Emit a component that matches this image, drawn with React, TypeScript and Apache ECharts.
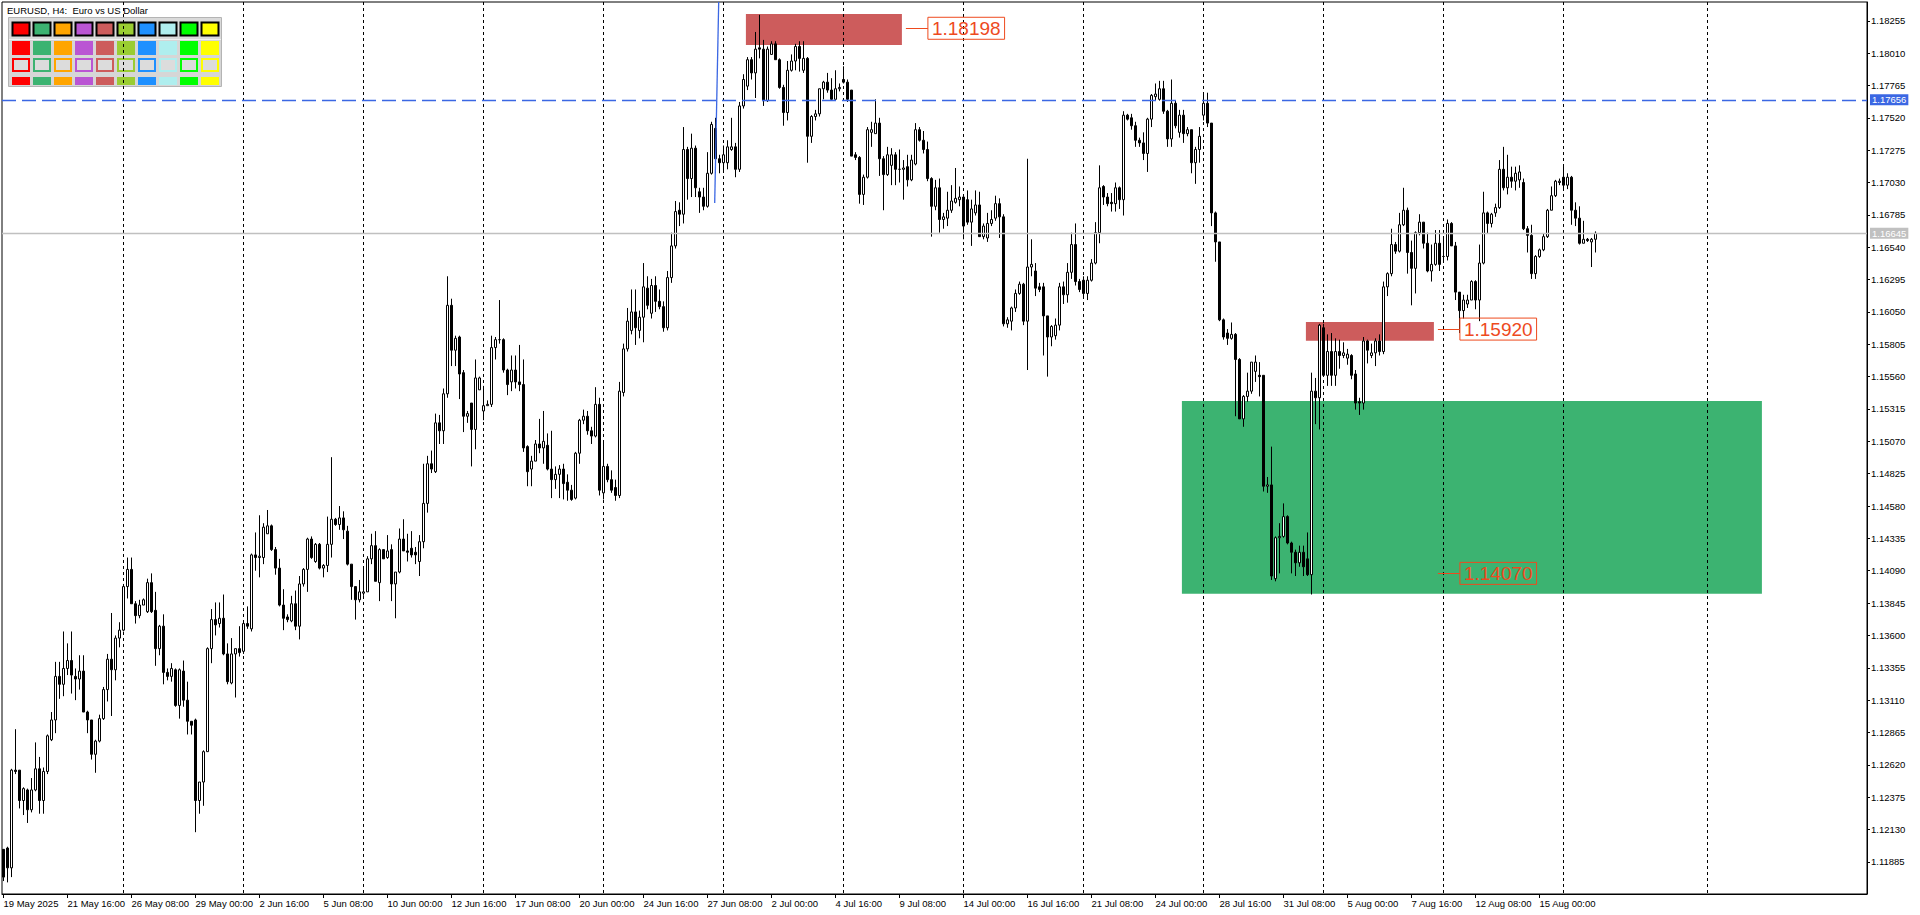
import React, { useEffect, useRef } from 'react';
import * as echarts from 'echarts';

// EURUSD H4 bars, one array per trading week: [open, high, low, close]
const week1 = [
  [1.1198,1.1198,1.1174,1.1177],[1.1199,1.1200,1.1173,1.1184],[1.1184,1.1259,1.1177,1.1258],[1.1258,1.1289,1.1255,1.1257],[1.1258,1.1258,1.1229,1.1235],[1.1235,1.1245,1.1224,1.1244],[1.1243,1.1244,1.1218,1.1228],[1.1228,1.1252,1.1226,1.1243],[1.1243,1.1279,1.1242,1.1259],[1.1259,1.1268,1.1225,1.1235],
  [1.1235,1.1260,1.1225,1.1257],[1.1257,1.1285,1.1255,1.1284],[1.1281,1.1302,1.1280,1.1296],[1.1296,1.1340,1.1286,1.1329],[1.1329,1.1340,1.1312,1.1323],[1.1323,1.1363,1.1314,1.1335],[1.1335,1.1354,1.1330,1.1341],[1.1341,1.1363,1.1316,1.1330],[1.1329,1.1335,1.1311,1.1327],[1.1327,1.1345,1.1319,1.1333],
  [1.1333,1.1345,1.1302,1.1302],[1.1302,1.1303,1.1286,1.1296],[1.1296,1.1296,1.1266,1.1270],[1.1270,1.1281,1.1256,1.1280],[1.1280,1.1300,1.1279,1.1297],[1.1297,1.1321,1.1296,1.1319],[1.1319,1.1346,1.1310,1.1342],[1.1342,1.1377,1.1299,1.1334],[1.1334,1.1360,1.1326,1.1358],[1.1358,1.1370,1.1351,1.1364],
];
const week2 = [
  [1.1364,1.1399,1.1363,1.1397],[1.1397,1.1419,1.1388,1.1410],[1.1410,1.1419,1.1384,1.1384],[1.1384,1.1386,1.1369,1.1375],[1.1375,1.1387,1.1373,1.1383],[1.1383,1.1388,1.1383,1.1387],[1.1378,1.1403,1.1377,1.1400],[1.1400,1.1407,1.1377,1.1378],[1.1379,1.1393,1.1337,1.1350],[1.1350,1.1368,1.1345,1.1367],
  [1.1367,1.1376,1.1323,1.1332],[1.1332,1.1335,1.1326,1.1329],[1.1329,1.1339,1.1325,1.1335],[1.1334,1.1335,1.1306,1.1307],[1.1307,1.1335,1.1297,1.1334],[1.1333,1.1341,1.1306,1.1311],[1.1311,1.1325,1.1285,1.1295],[1.1295,1.1295,1.1285,1.1292],[1.1296,1.1297,1.1211,1.1235],[1.1235,1.1249,1.1225,1.1249],
  [1.1249,1.1273,1.1231,1.1272],[1.1272,1.1351,1.1272,1.1350],[1.1350,1.1380,1.1339,1.1372],[1.1372,1.1385,1.1360,1.1368],[1.1369,1.1385,1.1366,1.1373],[1.1373,1.1391,1.1345,1.1346],[1.1346,1.1354,1.1323,1.1325],[1.1324,1.1358,1.1323,1.1346],[1.1346,1.1350,1.1313,1.1350],[1.1350,1.1367,1.1344,1.1347],
];
const week3 = [
  [1.1348,1.1369,1.1346,1.1369],[1.1369,1.1382,1.1365,1.1367],[1.1365,1.1422,1.1363,1.1421],[1.1421,1.1438,1.1409,1.1419],[1.1419,1.1451,1.1404,1.1420],[1.1419,1.1445,1.1414,1.1442],[1.1437,1.1455,1.1437,1.1443],[1.1443,1.1444,1.1424,1.1425],[1.1425,1.1427,1.1406,1.1411],[1.1411,1.1418,1.1382,1.1383],
  [1.1383,1.1395,1.1364,1.1373],[1.1374,1.1376,1.1370,1.1372],[1.1371,1.1390,1.1370,1.1384],[1.1384,1.1394,1.1364,1.1367],[1.1367,1.1405,1.1357,1.1399],[1.1399,1.1411,1.1397,1.1410],[1.1410,1.1434,1.1393,1.1433],[1.1433,1.1435,1.1418,1.1419],[1.1416,1.1430,1.1415,1.1429],[1.1429,1.1430,1.1410,1.1411],
  [1.1411,1.1414,1.1404,1.1413],[1.1413,1.1450,1.1408,1.1429],[1.1429,1.1495,1.1419,1.1448],[1.1448,1.1449,1.1443,1.1444],[1.1444,1.1458,1.1440,1.1449],[1.1449,1.1454,1.1433,1.1440],[1.1439,1.1443,1.1413,1.1414],[1.1414,1.1414,1.1387,1.1397],[1.1397,1.1397,1.1372,1.1387],[1.1387,1.1402,1.1385,1.1393],
];
const week4 = [
  [1.1392,1.1411,1.1390,1.1393],[1.1393,1.1420,1.1393,1.1418],[1.1418,1.1437,1.1414,1.1428],[1.1428,1.1439,1.1401,1.1401],[1.1400,1.1426,1.1386,1.1425],[1.1425,1.1425,1.1418,1.1418],[1.1419,1.1436,1.1418,1.1424],[1.1425,1.1429,1.1386,1.1399],[1.1399,1.1408,1.1373,1.1408],[1.1408,1.1441,1.1407,1.1433],
  [1.1433,1.1448,1.1424,1.1424],[1.1424,1.1437,1.1416,1.1423],[1.1426,1.1439,1.1419,1.1421],[1.1423,1.1427,1.1414,1.1421],[1.1416,1.1436,1.1405,1.1431],[1.1431,1.1490,1.1426,1.1460],[1.1460,1.1496,1.1453,1.1490],[1.1490,1.1500,1.1483,1.1486],[1.1484,1.1528,1.1483,1.1521],[1.1521,1.1527,1.1505,1.1515],
  [1.1515,1.1547,1.1505,1.1543],[1.1543,1.1632,1.1540,1.1610],[1.1610,1.1615,1.1564,1.1576],[1.1576,1.1587,1.1564,1.1585],[1.1586,1.1587,1.1539,1.1558],[1.1559,1.1561,1.1514,1.1526],[1.1526,1.1530,1.1521,1.1528],[1.1536,1.1536,1.1488,1.1516],[1.1516,1.1569,1.1501,1.1555],[1.1546,1.1556,1.1546,1.1555],
];
const week5 = [
  [1.1530,1.1549,1.1523,1.1534],[1.1534,1.1538,1.1534,1.1535],[1.1535,1.1587,1.1533,1.1578],[1.1578,1.1586,1.1569,1.1584],[1.1584,1.1614,1.1581,1.1584],[1.1584,1.1585,1.1559,1.1561],[1.1561,1.1562,1.1542,1.1550],[1.1552,1.1572,1.1545,1.1561],[1.1561,1.1572,1.1547,1.1552],[1.1552,1.1580,1.1545,1.1550],
  [1.1550,1.1569,1.1499,1.1502],[1.1503,1.1504,1.1473,1.1484],[1.1486,1.1496,1.1473,1.1492],[1.1492,1.1508,1.1492,1.1505],[1.1505,1.1524,1.1498,1.1502],[1.1502,1.1530,1.1490,1.1507],[1.1504,1.1513,1.1485,1.1486],[1.1486,1.1515,1.1464,1.1478],[1.1478,1.1488,1.1471,1.1482],[1.1482,1.1489,1.1464,1.1486],
  [1.1486,1.1490,1.1463,1.1475],[1.1476,1.1482,1.1462,1.1470],[1.1470,1.1474,1.1462,1.1463],[1.1464,1.1499,1.1463,1.1498],[1.1498,1.1524,1.1490,1.1523],[1.1523,1.1531,1.1520,1.1526],[1.1526,1.1530,1.1512,1.1515],[1.1515,1.1518,1.1505,1.1511],[1.1511,1.1548,1.1510,1.1535],[1.1535,1.1540,1.1466,1.1470],
];
const week6 = [
  [1.1468,1.1508,1.1463,1.1488],[1.1488,1.1490,1.1476,1.1478],[1.1478,1.1485,1.1468,1.1470],[1.1472,1.1478,1.1462,1.1466],[1.1466,1.1552,1.1464,1.1545],[1.1544,1.1581,1.1541,1.1577],[1.1577,1.1608,1.1575,1.1598],[1.1591,1.1622,1.1588,1.1605],[1.1605,1.1622,1.1580,1.1593],[1.1591,1.1606,1.1585,1.1601],
  [1.1601,1.1642,1.1582,1.1624],[1.1623,1.1632,1.1607,1.1610],[1.1604,1.1630,1.1600,1.1625],[1.1625,1.1632,1.1605,1.1613],[1.1613,1.1622,1.1607,1.1609],[1.1609,1.1613,1.1590,1.1593],[1.1593,1.1636,1.1591,1.1631],[1.1631,1.1665,1.1627,1.1655],[1.1655,1.1689,1.1653,1.1681],[1.1682,1.1688,1.1670,1.1679],
  [1.1679,1.1745,1.1672,1.1728],[1.1728,1.1730,1.1690,1.1706],[1.1706,1.1740,1.1692,1.1729],[1.1729,1.1731,1.1692,1.1699],[1.1696,1.1699,1.1680,1.1692],[1.1692,1.1699,1.1682,1.1685],[1.1685,1.1726,1.1684,1.1710],[1.1710,1.1749,1.1709,1.1747],[1.1744,1.1752,1.1710,1.1721],[1.1721,1.1724,1.1710,1.1718],
];
const week7 = [
  [1.1718,1.1731,1.1712,1.1724],[1.1718,1.1735,1.1713,1.1730],[1.1728,1.1752,1.1727,1.1730],[1.1730,1.1733,1.1707,1.1713],[1.1713,1.1764,1.1711,1.1761],[1.1761,1.1785,1.1759,1.1781],[1.1776,1.1798,1.1773,1.1796],[1.1796,1.1798,1.1781,1.1786],[1.1786,1.1817,1.1767,1.1804],[1.1805,1.1830,1.1797,1.1804],
  [1.1804,1.1811,1.1761,1.1765],[1.1765,1.1806,1.1764,1.1804],[1.1800,1.1810,1.1800,1.1808],[1.1808,1.1810,1.1796,1.1796],[1.1796,1.1797,1.1774,1.1775],[1.1775,1.1777,1.1746,1.1756],[1.1756,1.1795,1.1750,1.1788],[1.1788,1.1800,1.1787,1.1795],[1.1795,1.1808,1.1788,1.1806],[1.1806,1.1810,1.1787,1.1797],
  [1.1788,1.1810,1.1786,1.1797],[1.1797,1.1798,1.1718,1.1738],[1.1738,1.1754,1.1733,1.1753],[1.1753,1.1758,1.1750,1.1755],[1.1755,1.1774,1.1753,1.1774],[1.1774,1.1780,1.1766,1.1779],[1.1779,1.1786,1.1771,1.1773],[1.1773,1.1782,1.1765,1.1766],[1.1766,1.1788,1.1766,1.1774],[1.1774,1.1778,1.1772,1.1775],
];
const week8 = [
  [1.1781,1.1791,1.1778,1.1779],[1.1779,1.1781,1.1764,1.1766],[1.1773,1.1773,1.1723,1.1723],[1.1724,1.1726,1.1720,1.1722],[1.1722,1.1723,1.1687,1.1694],[1.1694,1.1709,1.1686,1.1707],[1.1707,1.1745,1.1706,1.1743],[1.1741,1.1749,1.1730,1.1743],[1.1740,1.1766,1.1740,1.1748],[1.1748,1.1752,1.1708,1.1721],
  [1.1721,1.1723,1.1682,1.1709],[1.1709,1.1730,1.1708,1.1724],[1.1716,1.1729,1.1701,1.1724],[1.1724,1.1726,1.1701,1.1713],[1.1713,1.1728,1.1703,1.1713],[1.1713,1.1720,1.1690,1.1714],[1.1715,1.1724,1.1700,1.1705],[1.1705,1.1724,1.1704,1.1720],[1.1717,1.1748,1.1716,1.1743],[1.1743,1.1745,1.1734,1.1735],
  [1.1735,1.1742,1.1725,1.1728],[1.1728,1.1734,1.1704,1.1706],[1.1706,1.1707,1.1662,1.1685],[1.1685,1.1705,1.1682,1.1699],[1.1699,1.1706,1.1665,1.1675],[1.1675,1.1680,1.1668,1.1677],[1.1676,1.1696,1.1670,1.1682],[1.1682,1.1701,1.1680,1.1689],[1.1688,1.1714,1.1687,1.1691],[1.1690,1.1700,1.1685,1.1692],
];
const week9 = [
  [1.1692,1.1694,1.1660,1.1670],[1.1690,1.1697,1.1671,1.1673],[1.1673,1.1690,1.1655,1.1683],[1.1680,1.1697,1.1678,1.1686],[1.1686,1.1696,1.1662,1.1662],[1.1662,1.1672,1.1660,1.1670],[1.1661,1.1680,1.1658,1.1672],[1.1672,1.1682,1.1670,1.1675],[1.1676,1.1693,1.1674,1.1687],[1.1687,1.1691,1.1661,1.1677],
  [1.1677,1.1679,1.1594,1.1596],[1.1596,1.1601,1.1593,1.1599],[1.1598,1.1609,1.1591,1.1608],[1.1608,1.1622,1.1605,1.1619],[1.1619,1.1628,1.1618,1.1626],[1.1626,1.1627,1.1595,1.1598],[1.1598,1.1721,1.1561,1.1639],[1.1639,1.1660,1.1632,1.1641],[1.1636,1.1642,1.1617,1.1623],[1.1624,1.1627,1.1620,1.1622],
  [1.1624,1.1627,1.1572,1.1602],[1.1602,1.1602,1.1556,1.1586],[1.1586,1.1595,1.1579,1.1594],[1.1587,1.1600,1.1584,1.1595],[1.1595,1.1627,1.1591,1.1624],[1.1624,1.1628,1.1611,1.1618],[1.1618,1.1642,1.1612,1.1635],[1.1635,1.1665,1.1630,1.1656],[1.1656,1.1672,1.1625,1.1628],[1.1628,1.1630,1.1620,1.1622],
];
const week10 = [
  [1.1629,1.1632,1.1617,1.1619],[1.1619,1.1632,1.1614,1.1629],[1.1629,1.1645,1.1628,1.1642],[1.1642,1.1673,1.1641,1.1665],[1.1665,1.1716,1.1657,1.1699],[1.1700,1.1701,1.1686,1.1692],[1.1692,1.1695,1.1685,1.1687],[1.1688,1.1695,1.1681,1.1687],[1.1687,1.1703,1.1681,1.1699],[1.1699,1.1700,1.1683,1.1690],
  [1.1690,1.1757,1.1678,1.1754],[1.1754,1.1755,1.1750,1.1751],[1.1752,1.1755,1.1743,1.1746],[1.1746,1.1749,1.1730,1.1735],[1.1735,1.1737,1.1730,1.1733],[1.1733,1.1741,1.1720,1.1725],[1.1725,1.1752,1.1711,1.1751],[1.1751,1.1770,1.1745,1.1769],[1.1768,1.1778,1.1765,1.1770],[1.1766,1.1780,1.1765,1.1774],
  [1.1774,1.1780,1.1755,1.1757],[1.1757,1.1758,1.1730,1.1736],[1.1736,1.1781,1.1730,1.1763],[1.1763,1.1765,1.1744,1.1746],[1.1741,1.1758,1.1737,1.1754],[1.1754,1.1758,1.1733,1.1740],[1.1740,1.1745,1.1738,1.1743],[1.1743,1.1743,1.1710,1.1718],[1.1718,1.1730,1.1702,1.1728],[1.1728,1.1745,1.1718,1.1738],
];
const week11 = [
  [1.1754,1.1770,1.1750,1.1763],[1.1763,1.1771,1.1745,1.1748],[1.1748,1.1748,1.1670,1.1680],[1.1680,1.1681,1.1643,1.1658],[1.1658,1.1658,1.1598,1.1599],[1.1599,1.1600,1.1584,1.1586],[1.1589,1.1592,1.1580,1.1585],[1.1585,1.1597,1.1584,1.1588],[1.1588,1.1589,1.1526,1.1569],[1.1569,1.1570,1.1524,1.1524],
  [1.1524,1.1542,1.1518,1.1541],[1.1541,1.1559,1.1537,1.1545],[1.1545,1.1567,1.1543,1.1567],[1.1560,1.1572,1.1552,1.1567],[1.1557,1.1567,1.1541,1.1556],[1.1557,1.1557,1.1469,1.1473],[1.1473,1.1480,1.1468,1.1474],[1.1474,1.1503,1.1402,1.1405],[1.1403,1.1435,1.1401,1.1434],[1.1434,1.1445,1.1407,1.1435],
  [1.1435,1.1460,1.1434,1.1450],[1.1450,1.1451,1.1429,1.1430],[1.1430,1.1431,1.1407,1.1423],[1.1423,1.1425,1.1405,1.1415],[1.1415,1.1428,1.1412,1.1423],[1.1423,1.1428,1.1405,1.1412],[1.1418,1.1438,1.1405,1.1406],[1.1406,1.1559,1.1391,1.1545],[1.1545,1.1555,1.1520,1.1540],[1.1540,1.1596,1.1516,1.1595],
];
const week12 = [
  [1.1593,1.1596,1.1556,1.1557],[1.1557,1.1588,1.1549,1.1575],[1.1575,1.1589,1.1549,1.1557],[1.1557,1.1585,1.1549,1.1575],[1.1575,1.1584,1.1562,1.1572],[1.1572,1.1582,1.1570,1.1574],[1.1570,1.1577,1.1565,1.1573],[1.1572,1.1573,1.1554,1.1557],[1.1558,1.1561,1.1531,1.1536],[1.1537,1.1540,1.1527,1.1536],
  [1.1536,1.1586,1.1531,1.1583],[1.1583,1.1584,1.1566,1.1576],[1.1572,1.1581,1.1570,1.1574],[1.1574,1.1585,1.1564,1.1583],[1.1583,1.1588,1.1572,1.1575],[1.1575,1.1628,1.1573,1.1624],[1.1624,1.1635,1.1617,1.1634],[1.1634,1.1668,1.1632,1.1656],[1.1656,1.1658,1.1649,1.1651],[1.1651,1.1680,1.1650,1.1671],
  [1.1671,1.1699,1.1670,1.1682],[1.1682,1.1684,1.1634,1.1650],[1.1650,1.1659,1.1610,1.1638],[1.1638,1.1666,1.1619,1.1665],[1.1665,1.1679,1.1663,1.1673],[1.1673,1.1673,1.1653,1.1657],[1.1657,1.1665,1.1635,1.1636],[1.1636,1.1656,1.1628,1.1641],[1.1641,1.1667,1.1640,1.1657],[1.1657,1.1667,1.1636,1.1641],
];
const week13 = [
  [1.1647,1.1662,1.1643,1.1647],[1.1647,1.1675,1.1644,1.1672],[1.1672,1.1673,1.1655,1.1655],[1.1655,1.1658,1.1614,1.1620],[1.1620,1.1620,1.1589,1.1606],[1.1606,1.1618,1.1600,1.1614],[1.1611,1.1618,1.1608,1.1614],[1.1614,1.1629,1.1614,1.1628],[1.1628,1.1629,1.1607,1.1614],[1.1614,1.1656,1.1598,1.1642],
  [1.1642,1.1696,1.1641,1.1680],[1.1680,1.1681,1.1664,1.1672],[1.1672,1.1680,1.1669,1.1679],[1.1680,1.1687,1.1677,1.1684],[1.1684,1.1720,1.1683,1.1713],[1.1713,1.1730,1.1697,1.1699],[1.1699,1.1724,1.1694,1.1707],[1.1707,1.1715,1.1699,1.1704],[1.1704,1.1715,1.1697,1.1710],[1.1705,1.1716,1.1699,1.1711],
  [1.1703,1.1706,1.1667,1.1668],[1.1668,1.1670,1.1650,1.1663],[1.1663,1.1671,1.1630,1.1634],[1.1634,1.1648,1.1630,1.1647],[1.1647,1.1653,1.1646,1.1652],[1.1652,1.1664,1.1651,1.1662],[1.1662,1.1683,1.1661,1.1682],[1.1682,1.1700,1.1682,1.1693],[1.1693,1.1705,1.1692,1.1704],[1.1703,1.1706,1.1701,1.1704],
];
const week14 = [
  [1.1707,1.1716,1.1697,1.1701],[1.1701,1.1710,1.1698,1.1707],[1.1707,1.1708,1.1671,1.1682],[1.1682,1.1688,1.1670,1.1676],[1.1676,1.1685,1.1656,1.1657],[1.1657,1.1674,1.1657,1.1660],[1.1660,1.1661,1.1658,1.1659],[1.1658,1.1661,1.1639,1.1660],[1.1660,1.1666,1.1650,1.16645],
];
const weeks = [week1, week2, week3, week4, week5, week6, week7, week8, week9, week10, week11, week12, week13, week14];

const chartTitle = 'EURUSD, H4:  Euro vs US Dollar';
const xTickLabels = ['19 May 2025', '21 May 16:00', '26 May 08:00', '29 May 00:00', '2 Jun 16:00', '5 Jun 08:00', '10 Jun 00:00', '12 Jun 16:00', '17 Jun 08:00', '20 Jun 00:00', '24 Jun 16:00', '27 Jun 08:00', '2 Jul 00:00', '4 Jul 16:00', '9 Jul 08:00', '14 Jul 00:00', '16 Jul 16:00', '21 Jul 08:00', '24 Jul 00:00', '28 Jul 16:00', '31 Jul 08:00', '5 Aug 00:00', '7 Aug 16:00', '12 Aug 08:00', '15 Aug 00:00'];
const xTickBars = [0, 16, 32, 48, 64, 80, 96, 112, 128, 144, 160, 176, 192, 208, 224, 240, 256, 272, 288, 304, 320, 336, 352, 368, 384];
const yTickValues = [1.11885, 1.12130, 1.12375, 1.12620, 1.12865, 1.13110, 1.13355, 1.13600, 1.13845, 1.14090, 1.14335, 1.14580, 1.14825, 1.15070, 1.15315, 1.15560, 1.15805, 1.16050, 1.16295, 1.16540, 1.16785, 1.17030, 1.17275, 1.17520, 1.17765, 1.18010, 1.18255];
const weekGridBars = [30, 60, 90, 120, 150, 180, 210, 240, 270, 300, 330, 360, 390, 426];

// zones: [fromBar, topPrice, toBar, bottomPrice]
const zones = [
  [185.6, 1.18306, 224.6, 1.18072],
  [325.6, 1.15974, 357.6, 1.15832],
  [294.6, 1.15376, 439.6, 1.13916],
];
const zoneKinds = ['supply', 'supply', 'demand'];
// level labels: [anchorBar, price]
const levelLabels = [
  [225.6, 1.18198],
  [358.6, 1.15920],
  [358.6, 1.14070],
];
const alertLevel = 1.17656;
const bidPrice = 1.16645;
const trendLine = [177.8, 1.16875, 178.8, 1.18397];
const paletteColors = ['#FF0000', '#3CB371', '#FFA500', '#BA55D3', '#CD5C5C', '#9ACD32', '#1E90FF', '#AFEEEE', '#00FF00', '#FFFF00'];

const FONT = '"Liberation Sans", Arial, sans-serif';
const LABEL_RED = '#EE4A1E';

export default function App() {
  const ref = useRef<HTMLDivElement>(null);
  useEffect(() => {
    const chart = echarts.init(ref.current!, null, { renderer: 'svg' });
    const bars = weeks.flat();
    const candles = bars.map((b, i) => [i, b[0], b[3], b[2], b[1]]);

    const palette: any[] = [
      { type: 'rect', shape: { x: 8.5, y: 17.5, width: 213, height: 69 }, style: { fill: '#d6d6d6', stroke: '#b4b4b4', lineWidth: 1 } },
      { type: 'rect', shape: { x: 9, y: 18, width: 212, height: 21 }, style: { fill: '#dadada' } },
      { type: 'line', shape: { x1: 9, y1: 39.5, x2: 221, y2: 39.5 }, style: { stroke: '#f2f2f2', lineWidth: 1 } },
    ];
    paletteColors.forEach((c, k) => {
      const x = 12 + 21 * k;
      palette.push({ type: 'rect', shape: { x: x + 0.5, y: 22.5, width: 17, height: 13 }, style: { fill: c, stroke: '#000', lineWidth: 2 } });
      palette.push({ type: 'rect', shape: { x, y: 41, width: 18, height: 14 }, style: { fill: c } });
      palette.push({ type: 'rect', shape: { x: x + 1, y: 59, width: 16, height: 12 }, style: { fill: '#dcdcdc', stroke: c, lineWidth: 2 } });
      palette.push({ type: 'rect', shape: { x, y: 77, width: 18, height: 8 }, style: { fill: c } });
    });

    const option: any = {
      animation: false,
      backgroundColor: '#ffffff',
      grid: { left: 2, right: 53, top: 2, bottom: 21, show: true, borderColor: '#000', borderWidth: 1, backgroundColor: 'transparent' },
      xAxis: {
        type: 'value', min: -0.375, max: 465.875,
        axisLine: { show: true, onZero: false, lineStyle: { color: '#000', width: 1 } },
        axisTick: { show: true, customValues: xTickBars, length: 4, lineStyle: { color: '#000', width: 1 } },
        axisLabel: {
          show: true, customValues: xTickBars,
          formatter: (v: number) => xTickLabels[xTickBars.indexOf(Math.round(v))] ?? '',
          align: 'left', margin: 4, color: '#000', fontSize: 9.5, fontFamily: FONT,
        },
        splitLine: { show: false },
      },
      yAxis: {
        type: 'value', position: 'right', min: 1.11642, max: 1.18397,
        axisLine: { show: true, onZero: false, lineStyle: { color: '#000', width: 1 } },
        axisTick: { show: true, customValues: yTickValues, length: 3, lineStyle: { color: '#000', width: 1 } },
        axisLabel: {
          show: true, customValues: yTickValues,
          formatter: (v: number) => v.toFixed(5),
          margin: 4, color: '#000', fontSize: 9.5, fontFamily: FONT,
        },
        splitLine: { show: false },
      },
      series: [
        {
          type: 'custom', name: 'zones', z: 1, silent: true, clip: true,
          data: zones,
          encode: { x: [0, 2], y: [1, 3] },
          renderItem: (params: any, api: any) => {
            const a = api.coord([api.value(0), api.value(1)]);
            const b = api.coord([api.value(2), api.value(3)]);
            const kind = zoneKinds[params.dataIndex];
            return {
              type: 'rect',
              shape: { x: a[0], y: a[1], width: b[0] - a[0], height: b[1] - a[1] },
              style: { fill: kind === 'demand' ? '#3CB371' : '#CD5C5C' },
            };
          },
        },
        {
          type: 'custom', name: 'weekGrid', z: 1, silent: true, clip: true,
          data: weekGridBars.map((b) => [b, 1.15]),
          encode: { x: 0, y: 1 },
          renderItem: (params: any, api: any) => {
            const cs = params.coordSys;
            const x = api.coord([api.value(0), api.value(1)])[0];
            return {
              type: 'line',
              shape: { x1: x, y1: cs.y, x2: x, y2: cs.y + cs.height },
              style: { stroke: '#000', lineWidth: 1, lineDash: [3, 3] },
            };
          },
        },
        {
          type: 'candlestick', name: 'EURUSD', z: 2, silent: true,
          data: candles,
          encode: { x: 0, y: [1, 2, 3, 4] },
          barWidth: 2,
          itemStyle: {
            color: '#ffffff', color0: '#000000',
            borderColor: '#000000', borderColor0: '#000000', borderColorDoji: '#000000',
            borderWidth: 1,
          },
        },
        {
          type: 'custom', name: 'hlines', z: 3, silent: true, clip: true,
          data: [[0, alertLevel], [0, bidPrice]],
          encode: { x: 0, y: 1 },
          renderItem: (params: any, api: any) => {
            const cs = params.coordSys;
            const y = Math.round(api.coord([0, api.value(1)])[1]) + 0.5;
            const isAlert = params.dataIndex === 0;
            return {
              type: 'line',
              shape: { x1: cs.x, y1: y, x2: cs.x + cs.width, y2: y },
              style: isAlert
                ? { stroke: '#3B67E3', lineWidth: 1.3, lineDash: [14, 6] }
                : { stroke: '#C0C0C0', lineWidth: 1.6 },
            };
          },
        },
        {
          type: 'custom', name: 'trend', z: 3, silent: true, clip: true,
          data: [trendLine],
          encode: { x: [0, 2], y: [1, 3] },
          renderItem: (params: any, api: any) => {
            const a = api.coord([api.value(0), api.value(1)]);
            const b = api.coord([api.value(2), api.value(3)]);
            return { type: 'line', shape: { x1: a[0], y1: a[1], x2: b[0], y2: b[1] }, style: { stroke: '#3B67E3', lineWidth: 1.3 } };
          },
        },
        {
          type: 'custom', name: 'levelLabels', z: 4, silent: true, clip: false,
          data: levelLabels,
          encode: { x: 0, y: 1 },
          renderItem: (params: any, api: any) => {
            const p = api.coord([api.value(0), api.value(1)]);
            const y = Math.round(p[1]) + 0.5;
            return {
              type: 'group',
              children: [
                { type: 'line', shape: { x1: p[0], y1: y, x2: p[0] + 22, y2: y }, style: { stroke: LABEL_RED, lineWidth: 1 } },
                {
                  type: 'text', x: p[0] + 22, y: p[1],
                  style: {
                    text: api.value(1).toFixed(5), fill: LABEL_RED,
                    font: '19px "Liberation Sans", Arial, sans-serif',
                    align: 'left', verticalAlign: 'middle',
                    borderColor: LABEL_RED, borderWidth: 1, padding: [2, 4, 1, 4],
                  },
                },
              ],
            };
          },
        },
        {
          type: 'custom', name: 'axisTags', z: 5, silent: true, clip: false,
          data: [[0, alertLevel], [0, bidPrice]],
          encode: { x: 0, y: 1 },
          renderItem: (params: any, api: any) => {
            const cs = params.coordSys;
            const y = api.coord([0, api.value(1)])[1];
            return {
              type: 'text', x: cs.x + cs.width + 3, y,
              style: {
                text: api.value(1).toFixed(5), fill: '#ffffff',
                backgroundColor: params.dataIndex === 0 ? '#3B67E3' : '#C0C0C0',
                font: '9.5px "Liberation Sans", Arial, sans-serif',
                align: 'left', verticalAlign: 'middle', padding: [1, 2, 0, 2],
              },
            };
          },
        },
      ],
      graphic: [
        { type: 'text', x: 7, y: 10, z: 100, style: { text: chartTitle, fill: '#000', font: '9.5px "Liberation Sans", Arial, sans-serif', verticalAlign: 'middle' } },
        { type: 'group', z: 100, children: palette },
      ],
    };
    chart.setOption(option);
    return () => chart.dispose();
  }, []);
  return <div ref={ref} style={{ position: 'fixed', left: 0, top: 0, width: 1920, height: 915, background: '#fff' }} />;
}
